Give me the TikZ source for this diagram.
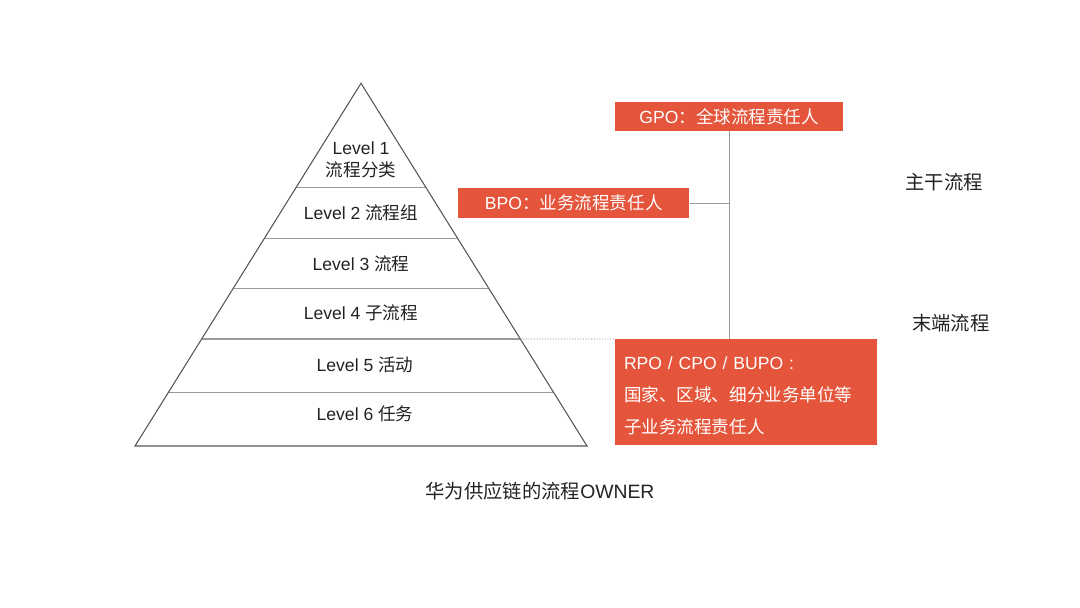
\documentclass[tikz,border=0pt]{standalone}
\usepackage{fontspec}
\setmainfont{Liberation Sans}
\newfontfamily\cjk{Noto Sans CJK SC}
\usepackage{tikz}
\usetikzlibrary{calc}

\definecolor{ownerred}{HTML}{E4553B}
\definecolor{edgegray}{HTML}{555555}
\definecolor{linegray}{HTML}{9A9A9A}
\definecolor{txtgray}{HTML}{222222}

\begin{document}
\begin{tikzpicture}[
    lvl/.style={align=center, text=txtgray, font=\fontsize{10}{12.5}\selectfont},
    ownerbox/.style={rectangle, fill=ownerred, text=white, minimum height=0.587cm, inner sep=0pt, font=\fontsize{10}{12}\selectfont},
    tag/.style={text=txtgray, font=\fontsize{11}{13}\selectfont},
    link/.style={draw=linegray, line width=0.5pt}
]
    \useasboundingbox (0,0) rectangle (21.6,12.16);

    % Pyramid
    \coordinate (apex) at (7.22,10.494);
    \coordinate (bl) at (2.70,3.24);
    \coordinate (br) at (11.74,3.24);
    \foreach \t in {0.2878,0.4274,0.5652,0.7050,0.8530}
        \draw[linegray, line width=0.6pt] ($(apex)!\t!(bl)$) -- ($(apex)!\t!(br)$);
    \draw[edgegray, line width=0.6pt] (apex) -- (br) -- (bl) -- cycle;
    \coordinate (l5) at ($(apex)!0.7050!(br)$);

    % Levels
    \node[lvl] (lv1) at (7.22,8.97) {Level 1\\{\cjk 流程分类}};
    \node[lvl] (lv2) at (7.22,7.906) {Level 2 {\cjk 流程组}};
    \node[lvl] (lv3) at (7.22,6.88) {Level 3 {\cjk 流程}};
    \node[lvl] (lv4) at (7.22,5.90) {Level 4 {\cjk 子流程}};
    \node[lvl] (lv5) at (7.30,4.86) {Level 5 {\cjk 活动}};
    \node[lvl] (lv6) at (7.30,3.88) {Level 6 {\cjk 任务}};

    % Process owners
    \node[ownerbox, minimum width=4.566cm] (gpo) at (14.584,9.833) {GPO{\cjk ：全球流程责任人}};
    \node[ownerbox, minimum width=4.62cm] (bpo) at (11.476,8.10) {BPO{\cjk ：业务流程责任人}};
    \node[ownerbox, minimum width=5.246cm, minimum height=2.114cm, text width=4.886cm, inner xsep=0.18cm, align=left,
        font=\fontsize{10}{18.2}\selectfont] (rpo) at (14.924,4.316)
        {\rule{0pt}{11pt}RPO / CPO / BUPO :\\{\cjk 国家、区域、细分业务单位等}\\{\cjk 子业务流程责任人}};

    \draw[link] (gpo.south) -- (gpo.south |- rpo.north);
    \draw[link] (bpo.east) -- (bpo.east -| gpo.south);
    \draw[black!50, densely dotted, line width=0.55pt] (l5) -- (rpo.north west);

    % Side labels
    \node[tag] (trunk) at (18.88,8.526) {\cjk 主干流程};
    \node[tag] (leaf) at (19.016,5.70) {\cjk 末端流程};

    % Caption
    \node[tag] (caption) at (10.8,2.346) {{\cjk 华为供应链的流程}OWNER};

\end{tikzpicture}
\end{document}
